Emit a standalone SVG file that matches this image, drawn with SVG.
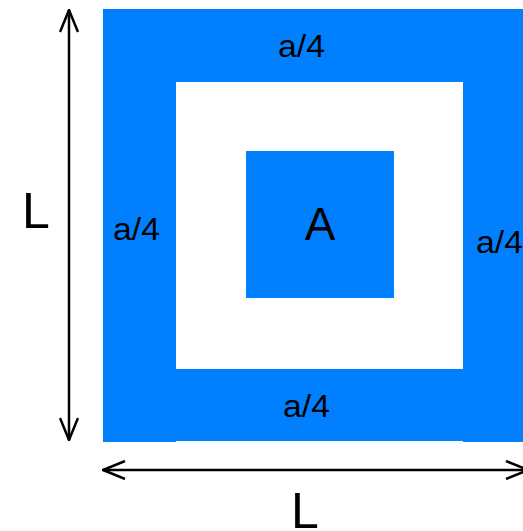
<svg xmlns="http://www.w3.org/2000/svg" width="523" height="531" viewBox="0 0 523 531">
<defs>
<style>
.blue{fill:#0080ff;}
.lbl{font-family:"Liberation Sans",Arial,sans-serif;fill:#000;}
.small{font-size:31px;}
.big{font-size:50px;}
.dim{stroke:#000;stroke-width:2.5;fill:none;}
</style>
<marker id="arr" viewBox="0 0 24 20" refX="23" refY="10" markerWidth="24" markerHeight="20" markerUnits="userSpaceOnUse" orient="auto-start-reverse">
<path d="M1,1 L23,10 L1,19" fill="none" stroke="#000" stroke-width="2.5"/>
</marker>
</defs>
<g id="frame">
<rect class="blue" x="103" y="9" width="420" height="73"/>
<rect class="blue" x="103" y="9" width="73" height="433"/>
<rect class="blue" x="463" y="9" width="60" height="433"/>
<rect class="blue" x="176" y="369" width="287" height="72"/>
</g>
<g id="inner">
<rect class="blue" x="246" y="151" width="148" height="147"/>
<text class="lbl" x="320" y="240" font-size="46" text-anchor="middle">A</text>
</g>
<g id="labels">
<text class="lbl small" x="278" y="57" textLength="47" lengthAdjust="spacingAndGlyphs">a/4</text>
<text class="lbl small" x="113" y="240" textLength="47" lengthAdjust="spacingAndGlyphs">a/4</text>
<text class="lbl small" x="476" y="253" textLength="47" lengthAdjust="spacingAndGlyphs">a/4</text>
<text class="lbl small" x="283" y="417" textLength="47" lengthAdjust="spacingAndGlyphs">a/4</text>
<text class="lbl big" x="22" y="228">L</text>
<text class="lbl big" x="291" y="528">L</text>
</g>
<g id="connectors">
<line class="dim" x1="69" y1="10" x2="69" y2="440" marker-start="url(#arr)" marker-end="url(#arr)"/>
<line class="dim" x1="103" y1="470" x2="528" y2="470" marker-start="url(#arr)" marker-end="url(#arr)"/>
</g>
</svg>
